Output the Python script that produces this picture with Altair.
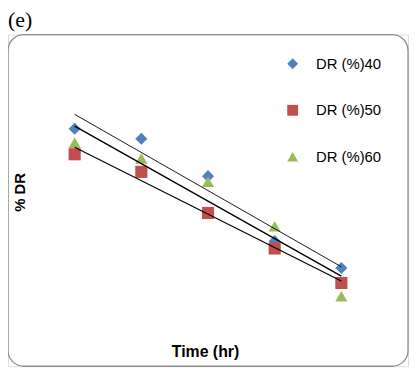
import altair as alt
import pandas as pd

time_hr = [1, 2, 3, 4, 5]
dr40 = [71.6, 68.6, 57.3, 37.7, 29.6]
dr50 = [63.9, 58.6, 46.2, 35.5, 25.1]
dr60 = [67.4, 62.6, 55.6, 42.2, 21.1]
series_names = ["DR (%)40", "DR (%)50", "DR (%)60"]
colors = ["#4F81BD", "#C0504D", "#9BBB59"]
shapes = ["diamond", "square", "triangle-up"]
line_widths = [0.9, 1.4, 1.4]
panel_label = ["(e)"]

rows = []
for name, vals in zip(series_names, [dr40, dr50, dr60]):
    for t, v in zip(time_hr, vals):
        rows.append({"Time": t, "DR": v, "Series": name})
df = pd.DataFrame(rows)

W, H = 404, 335
xs = alt.Scale(domain=[0, 6], nice=False, zero=False)
ys = alt.Scale(domain=[0, 100], nice=False, zero=False)

base = alt.Chart(df)

frame = alt.Chart(pd.DataFrame({"k": [0]})).mark_rect(
    fill="white", fillOpacity=0, stroke="#8c8c8c", strokeWidth=1.3, cornerRadius=16
).encode(
    x=alt.value(0), x2=alt.value(W), y=alt.value(0), y2=alt.value(H)
)

label = alt.Chart(pd.DataFrame({"label": panel_label})).mark_text(
    font="Liberation Serif", fontSize=22, color="#000", align="left",
    baseline="top"
).encode(
    text="label:N", x=alt.value(0), y=alt.value(-25)
)

points = base.mark_point(filled=True, size=150, opacity=1).encode(
    x=alt.X("Time:Q", scale=xs,
            axis=alt.Axis(labels=False, ticks=False, domain=False, grid=False,
                          title="Time (hr)", titleX=199, titleY=-10,
                          titleBaseline="alphabetic", titleAlign="center",
                          titleFont="Liberation Sans", titleFontSize=16,
                          titleFontWeight="bold", titleColor="#000", zindex=1)),
    y=alt.Y("DR:Q", scale=ys,
            axis=alt.Axis(labels=False, ticks=False, domain=False, grid=False,
                          title="% DR", titleX=17, titleY=159, titleAngle=270,
                          titleBaseline="alphabetic", titleAlign="center",
                          titleFont="Liberation Sans", titleFontSize=15,
                          titleFontWeight="bold", titleColor="#000", zindex=1)),
    color=alt.Color("Series:N", scale=alt.Scale(domain=series_names, range=colors),
                    legend=alt.Legend(title=None, orient="none", legendX=280, legendY=22,
                                      symbolSize=120, labelFontSize=15,
                                      labelFont="Liberation Sans", labelColor="#000",
                                      labelOffset=16, rowPadding=30, padding=0,
                                      symbolOpacity=1)),
    shape=alt.Shape("Series:N", scale=alt.Scale(domain=series_names, range=shapes)),
)

lines = base.transform_regression(
    "Time", "DR", groupby=["Series"]
).mark_line(color="black").encode(
    x=alt.X("Time:Q", scale=xs),
    y=alt.Y("DR:Q", scale=ys),
    detail="Series:N",
    strokeWidth=alt.StrokeWidth("Series:N",
                                scale=alt.Scale(domain=series_names, range=line_widths),
                                legend=None),
)

chart = alt.layer(frame, label, points, lines).properties(
    width=W, height=H,
    autosize=alt.AutoSizeParams(type="none"),
    padding={"left": 0, "right": 2, "top": 25, "bottom": 2},
).configure_view(
    stroke=None, fill="white"
).configure(background="white")

chart.save("out.html", embed_options={"renderer": "svg", "actions": False})
